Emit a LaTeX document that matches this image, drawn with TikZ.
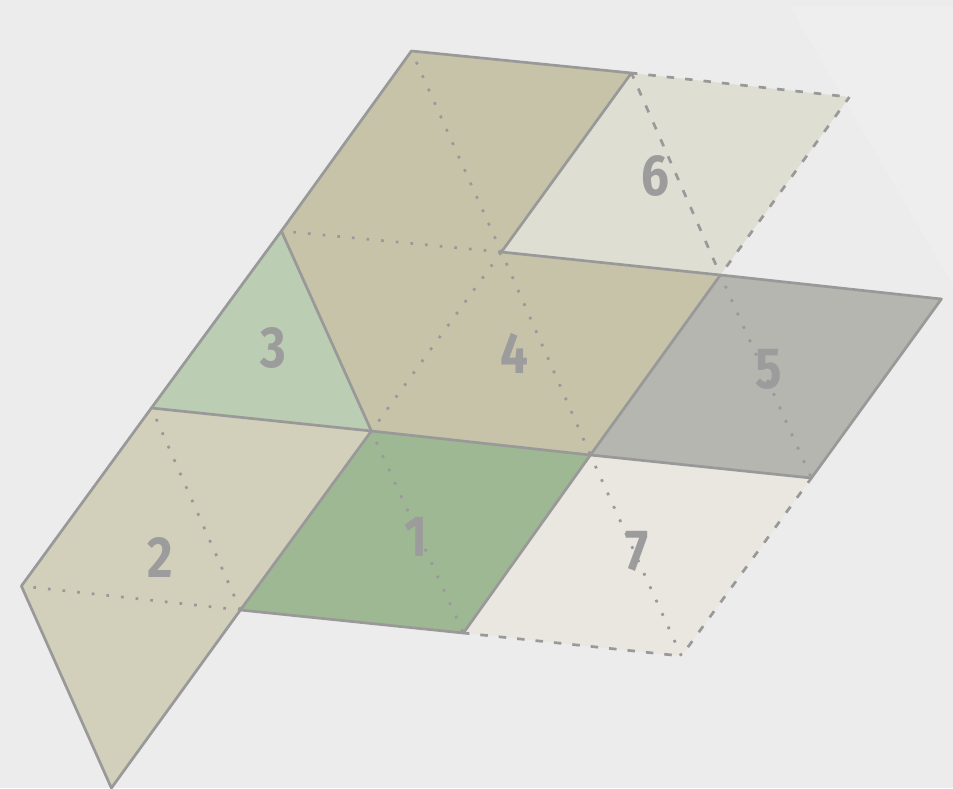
\documentclass[tikz,border=0pt]{standalone}
\usepackage{fontspec}
\newfontfamily\digitfont[FakeStretch=0.85,BoldFont={Fira Sans Bold}]{Fira Sans}
\definecolor{bgc}{HTML}{ECECEC}
\definecolor{bgl}{HTML}{EEEEEE}
\definecolor{linec}{HTML}{999999}
\definecolor{digitc}{HTML}{9C9C9C}
\definecolor{cfour}{HTML}{C7C3A9}
\definecolor{cthree}{HTML}{BBCDB3}
\definecolor{ctwo}{HTML}{D2CFBA}
\definecolor{cone}{HTML}{9FB894}
\definecolor{cfive}{HTML}{B4B6AF}
\definecolor{csix}{HTML}{DEDFD2}
\definecolor{cseven}{HTML}{E9E7E0}
\tikzset{
  solidedge/.style={draw=linec,line width=2.7pt,line join=round,line cap=round},
  dotedge/.style={draw=linec,line width=2.7pt,line cap=butt,dash pattern=on 2.7pt off 12pt,dash phase=2.7pt},
  dashedge/.style={draw=linec,line width=2.7pt,line cap=butt,dash pattern=on 7.5pt off 11pt,dash phase=1.5pt},
  digit/.style={text=digitc,font=\digitfont\bfseries\fontsize{58}{60}\selectfont,inner sep=0pt,anchor=center}
}
\begin{document}
\begin{tikzpicture}[x=1pt,y=-1pt]
\useasboundingbox (0,0) rectangle (953,788);
\fill[bgc] (0,0) rectangle (953,788);
\fill[bgl] (790,7) -- (953,7) -- (953,285) -- cycle;
\coordinate (a0) at (411.4,51);
\coordinate (a1) at (631.4,73);
\coordinate (a2) at (849.4,97);
\coordinate (b0) at (281.4,231);
\coordinate (b1) at (501.4,252);
\coordinate (b2) at (720.4,275);
\coordinate (b3) at (941.4,299);
\coordinate (c0) at (151.4,408);
\coordinate (c1) at (371.4,431);
\coordinate (c2) at (590.4,455);
\coordinate (c3) at (811.4,478);
\coordinate (d0) at (21.4,586);
\coordinate (d1) at (240.4,610);
\coordinate (d2) at (463.4,633);
\coordinate (d3) at (681.4,656);
\coordinate (e0) at (111.4,788);
% fills
\fill[csix] (a1) -- (a2) -- (b2) -- (b1) -- cycle;
\fill[cseven] (c2) -- (c3) -- (d3) -- (d2) -- cycle;
\fill[cfour] (a0) -- (a1) -- (b1) -- (b2) -- (c2) -- (c1) -- (b0) -- cycle;
\fill[cthree] (b0) -- (c1) -- (c0) -- cycle;
\fill[ctwo] (c0) -- (c1) -- (d1) -- (e0) -- (d0) -- cycle;
\fill[cone] (c1) -- (c2) -- (d2) -- (d1) -- cycle;
\fill[cfive] (b2) -- (b3) -- (c3) -- (c2) -- cycle;
% dotted folds
\draw[dotedge] (a0) -- (b1);
\draw[dotedge] (b1) -- (c2);
\draw[dotedge] (b0) -- (b1);
\draw[dotedge] (c1) -- (b1);
\draw[dotedge] (c0) -- (d1);
\draw[dotedge] (d0) -- (d1);
\draw[dotedge] (c1) -- (d2);
\draw[dotedge] (b2) -- (c3);
\draw[dotedge] (c2) -- (d3);
% dashed
\draw[dashedge] (a1) -- (a2);
\draw[dashedge] (a2) -- (b2);
\draw[dashedge] (a1) -- (b2);
\draw[dashedge] (c3) -- (d3);
\draw[dashedge] (d2) -- (d3);
% solid
\draw[solidedge] (a1) -- (a0) -- (b0) -- (c0) -- (d0) -- (e0) -- (d1) -- (d2) -- (c2) -- (c3) -- (b3) -- (b2) -- (b1) -- (a1);
\draw[solidedge] (b0) -- (c1) -- (c2) -- (b2);
\draw[solidedge] (c0) -- (c1) -- (d1);
% digits
\node[digit] (n1) at (416,537) {1};
\node[digit] (n2) at (160.5,557) {2};
\node[digit] (n3) at (273,348) {3};
\node[digit] (n4) at (514,353) {4};
\node[digit] (n5) at (768.5,369) {5};
\node[digit] (n6) at (655,176) {6};
\node[digit] (n7) at (637.5,551) {7};
\end{tikzpicture}
\end{document}
